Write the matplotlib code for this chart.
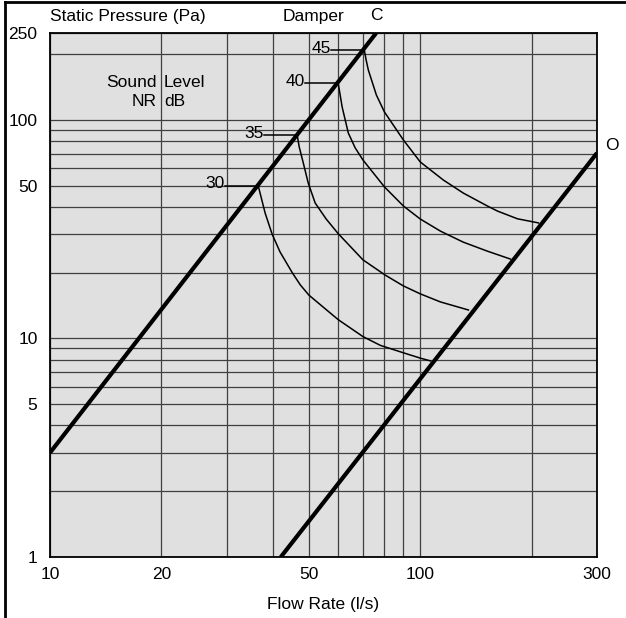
import numpy as np
import matplotlib
matplotlib.use("Agg")
import matplotlib.pyplot as plt
from matplotlib.ticker import LogLocator, NullFormatter, FixedLocator
from matplotlib.lines import Line2D

plt.rcParams['font.family'] = ['Liberation Sans', 'DejaVu Sans']

# damper lines (closed / open)
c_flow = [10, 76]
c_pres = [3.0, 250]
o_flow = [42, 300]
o_pres = [1.0, 70.6]

# sound level curves NR dB
nr_levels = [30, 35, 40, 45]
nr30_flow = [36.5, 38.1, 39.8, 41.8, 45.1, 47.4, 50, 55, 60, 70, 78, 90, 100, 106.4]
nr30_pres = [50, 37.5, 30, 24.9, 20, 17.6, 15.8, 13.8, 12.2, 10.2, 9.3, 8.6, 8.13, 7.9]
nr35_flow = [46.5, 47.1, 48.3, 49.8, 52.0, 55.7, 60, 70, 80.4, 90, 100, 113.3, 134.9]
nr35_pres = [85.4, 75.2, 63.6, 51.5, 41.7, 35.2, 30.2, 22.9, 19.5, 17.4, 16.0, 14.7, 13.5]
nr40_flow = [60, 61.5, 63.9, 66.7, 70, 80, 90, 100, 113.3, 130.6, 151.7, 175]
nr40_pres = [147.7, 114.7, 87.2, 74.5, 65.6, 49.4, 40.4, 35.2, 31.0, 27.6, 25.1, 23.1]
nr45_flow = [70.6, 71.4, 72.4, 76.1, 80, 90, 100, 115.4, 130.6, 151.7, 161.5, 182.9, 208.4]
nr45_pres = [209, 188, 169, 130, 108.8, 81, 64.2, 53.1, 46.3, 40.4, 38.3, 35.3, 33.8]
curves = [(nr30_flow, nr30_pres), (nr35_flow, nr35_pres),
          (nr40_flow, nr40_pres), (nr45_flow, nr45_pres)]

y_ticks = [1, 5, 10, 50, 100, 250]
x_ticks = [10, 20, 50, 100, 300]

fig = plt.figure(figsize=(6.26, 6.18), dpi=100)
ax = fig.add_axes([50/626, 61/618, 547/626, 524/618])
ax.set_facecolor('#e0e0e0')
ax.set_xscale('log')
ax.set_yscale('log')
ax.set_xlim(10, 300)
ax.set_ylim(1, 250)

ax.xaxis.set_major_locator(FixedLocator(x_ticks))
ax.yaxis.set_major_locator(FixedLocator(y_ticks))
ax.set_xticklabels([str(v) for v in x_ticks])
ax.set_yticklabels([str(v) for v in y_ticks])
ax.xaxis.set_minor_locator(LogLocator(base=10, subs=np.arange(2, 10), numticks=20))
ax.yaxis.set_minor_locator(LogLocator(base=10, subs=np.arange(2, 10), numticks=20))
ax.xaxis.set_minor_formatter(NullFormatter())
ax.yaxis.set_minor_formatter(NullFormatter())
ax.tick_params(which='both', length=0, labelsize=12.5, colors='black')
ax.tick_params(axis='y', pad=9)
ax.tick_params(axis='x', pad=7)
ax.grid(which='both', color='#404040', linewidth=0.9)
for s in ax.spines.values():
    s.set_linewidth(1.3)
    s.set_color('black')

ax.plot(c_flow, c_pres, color='black', lw=3, solid_capstyle='butt')
ax.plot(o_flow, o_pres, color='black', lw=3, solid_capstyle='butt')

for lvl, (f, p) in zip(nr_levels, curves):
    ax.plot(f, p, color='black', lw=1.1, solid_joinstyle='round')
    x0 = f[0] * 0.815
    ax.plot([x0, f[0]], [p[0], p[0]], color='black', lw=1.1)
    ax.text(x0 * 0.995, p[0] * 1.02, str(lvl), ha='right', va='center', fontsize=12.5)

ax.text(19.4, 149, "Sound", ha='right', va='center', fontsize=12.5)
ax.text(20.3, 149, "Level", ha='left', va='center', fontsize=12.5)
ax.text(19.4, 122, "NR", ha='right', va='center', fontsize=12.5)
ax.text(20.3, 122, "dB", ha='left', va='center', fontsize=12.5)

fig.text(50/626, 1 - 16/618, "Static Pressure (Pa)", ha='left', va='center', fontsize=12.5)
fig.text(313/626, 1 - 16/618, "Damper", ha='center', va='center', fontsize=12.5)
fig.text(376/626, 1 - 16/618, "C", ha='center', va='center', fontsize=12.5)
fig.text(612/626, 1 - 145/618, "O", ha='center', va='center', fontsize=12.5)
fig.text(323/626, 1 - 605/618, "Flow Rate (l/s)", ha='center', va='center', fontsize=12.5)

# outer frame (left and top edges)
fig.add_artist(Line2D([4.5/626, 4.5/626], [0, 1 - 2/618], transform=fig.transFigure, color='black', lw=2))
fig.add_artist(Line2D([4.5/626, 1], [1 - 2/618, 1 - 2/618], transform=fig.transFigure, color='black', lw=2))

fig.savefig("out.png", dpi=100)
